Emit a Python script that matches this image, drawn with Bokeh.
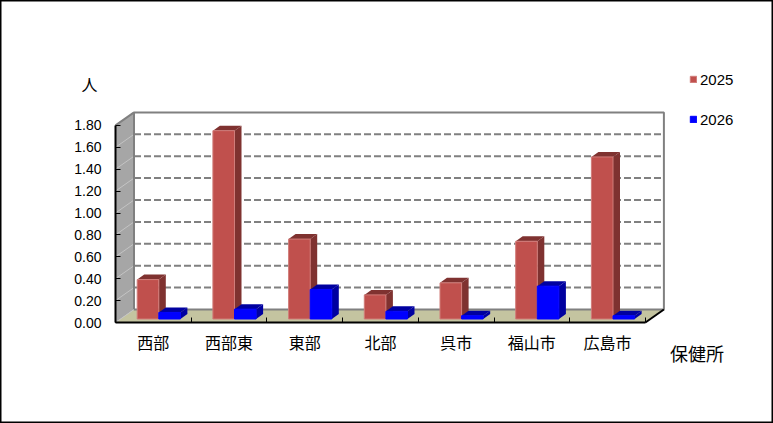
from bokeh.plotting import figure
from bokeh.models import FixedTicker, Label, Legend, LegendItem, Range1d
from bokeh.embed import file_html
from bokeh.resources import INLINE

categories = ["西部", "西部東", "東部", "北部", "呉市", "福山市", "広島市"]
v2025 = [0.36, 1.72, 0.73, 0.22, 0.33, 0.71, 1.48]
v2026 = [0.06, 0.09, 0.27, 0.07, 0.03, 0.30, 0.03]
y_ticks = [0.0, 0.2, 0.4, 0.6, 0.8, 1.0, 1.2, 1.4, 1.6, 1.8]

# layout, in pixels of the page
PW, PH = 773, 423
L, B = 115, 322        # where the value 0 of the first category lies
PX = 1 / 75.7          # category units per pixel
PY = 0.2 / 21.9        # value units per pixel
DX, DY = 18.5 * PX, 13 * PY     # depth of the box
BX, BY = 7 * PX, 5 * PY         # depth of one bar
OY = 3.5 * PY                   # bar base above the front edge
RED_L, W = 21.7 * PX, 21.6 * PX
N = len(categories)

p = figure(width=PW, height=PH, output_backend="svg", toolbar_location=None,
           x_range=Range1d(-L * PX, (PW - L) * PX), y_range=Range1d(-(PH - B) * PY, B * PY),
           min_border=0)
p.outline_line_color = "#000000"
p.outline_line_width = 2
p.grid.visible = False

TOP = y_ticks[-1]
# walls and floor
p.patch([0, DX, DX, 0], [0, DY, TOP + DY, TOP], fill_color="#A6A6A6", line_color=None)
p.patch([0, N, N + DX, DX], [0, 0, DY, DY], fill_color="#C4C4A0", line_color=None)
# grid
gy = y_ticks[1:-1]
p.segment([DX] * len(gy), [v + DY for v in gy], [N + DX] * len(gy), [v + DY for v in gy],
          line_color="#808080", line_width=2, line_dash="7 3")
p.segment([0] * len(gy), gy, [DX] * len(gy), [v + DY for v in gy], line_color="#C4C4C4", line_width=1)
p.line([0, DX, DX, N + DX, N + DX, DX], [TOP, TOP + DY, DY, DY, TOP + DY, TOP + DY],
       line_color="#808080", line_width=2)
p.line([0, DX], [0, DY], line_color="#C4C4C4", line_width=1)
p.line([N, N + DX], [0, DY], line_color="#000000", line_width=2)


def bars(values, shift, front, dark, edge):
    lefts = [i + RED_L + shift for i in range(N)]
    rights = [x + W for x in lefts]
    tops = [v + OY for v in values]
    p.patches([[r, r + BX, r + BX, r] for r in rights],
              [[OY, OY + BY, t + BY, t] for t in tops], fill_color=dark, line_color=None)
    p.patches([[l, r, r + BX, l + BX] for l, r in zip(lefts, rights)],
              [[t, t, t + BY, t + BY] for t in tops], fill_color=dark, line_color=None)
    return p.quad(left=lefts, right=rights, bottom=[OY] * N, top=tops,
                  fill_color=front, line_color=edge, line_width=1)


r1 = bars(v2025, 0, "#C0504D", "#7F3230", "#D07C79")
r2 = bars(v2026, W, "#0000FF", "#0000A0", "#0000FF")

# axes
ya = p.yaxis[0]
ya.fixed_location = 0
ya.ticker = FixedTicker(ticks=y_ticks)
ya.bounds = (0, TOP)
ya.major_label_overrides = {v: f"{v:.2f}" for v in y_ticks}
ya.axis_line_color = "#000000"
ya.axis_line_width = 2
ya.major_tick_in = 5
ya.major_tick_out = 0
ya.major_tick_line_color = "#000000"
ya.major_tick_line_width = 1
ya.minor_tick_line_color = None
ya.major_label_text_font = "Liberation Sans"
ya.major_label_text_font_size = "14px"
ya.major_label_text_color = "#000000"
ya.major_label_standoff = 14

xa = p.xaxis[0]
xa.fixed_location = 0
centers = [i + 0.5 for i in range(N)]
xa.ticker = FixedTicker(ticks=centers, minor_ticks=list(range(N + 1)))
xa.bounds = (0, N)
xa.major_label_overrides = dict(zip(centers, categories))
xa.axis_line_color = "#000000"
xa.axis_line_width = 2
xa.major_tick_line_color = None
xa.major_tick_in = 0
xa.major_tick_out = 0
xa.minor_tick_in = 5
xa.minor_tick_out = 0
xa.minor_tick_line_color = "#000000"
xa.major_label_text_font = "Noto Sans CJK JP"
xa.major_label_text_font_size = "16px"
xa.major_label_text_color = "#000000"
xa.major_label_standoff = 7

# axis titles
p.add_layout(Label(x=(89 - L) * PX, y=(B - 83) * PY, text="人", text_align="center",
                   text_baseline="middle", text_font="Noto Sans CJK JP",
                   text_font_size="16px", text_color="#000000"))
p.add_layout(Label(x=(696.5 - L) * PX, y=(B - 352) * PY, text="保健所", text_align="center",
                   text_baseline="middle", text_font="Noto Sans CJK JP",
                   text_font_size="18px", text_color="#000000"))

legend = Legend(items=[LegendItem(label="2025", renderers=[r1]), LegendItem(label="2026", renderers=[r2])],
                location=(689, 295), orientation="vertical", spacing=22,
                border_line_color=None, background_fill_alpha=0,
                glyph_width=8, glyph_height=8, label_standoff=3,
                label_text_font="Liberation Sans", label_text_font_size="15px",
                label_text_color="#000000", padding=0, margin=0, label_height=18)
p.add_layout(legend, "center")

open("out.html", "w").write(file_html(p, INLINE))
